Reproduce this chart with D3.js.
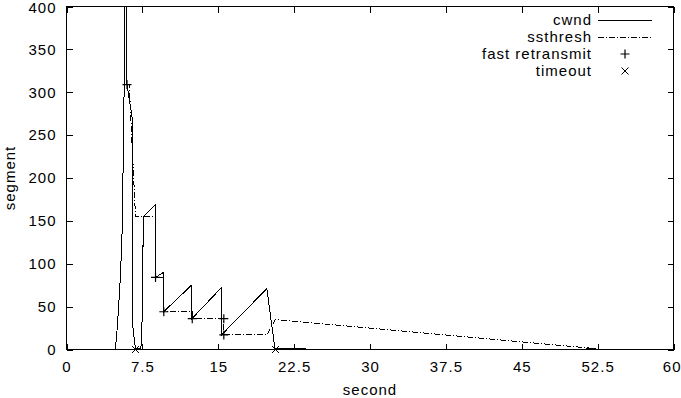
<!DOCTYPE html>
<html><head><meta charset="utf-8">
<script src="https://cdn.jsdelivr.net/npm/d3@7"></script>
<style>
body{margin:0;background:#fff}
svg text{font-family:"Liberation Sans",Arial,Helvetica,sans-serif;font-size:15px;letter-spacing:1px;fill:#000}
</style></head><body>
<svg id="c" width="681" height="398"></svg>
<script>
// ---- data ----
const xTicks = [0, 7.5, 15, 22.5, 30, 37.5, 45, 52.5, 60];
const yTicks = [0, 50, 100, 150, 200, 250, 300, 350, 400];
const xLabel = "second";
const yLabel = "segment";
const legendLabels = ["cwnd", "ssthresh", "fast retransmit", "timeout"];

const cwndTime  = [0, 4.78, 4.85, 4.95, 5.1, 5.3, 5.45, 5.5, 5.58, 5.65, 5.72, 5.76, 5.85, 5.95, 5.97, 6.3, 6.55, 6.57, 6.82, 7.35, 7.45, 7.52, 7.6, 8.8, 8.8, 9.58, 9.6, 12.36, 12.4, 15.3, 15.32, 19.8, 20.6, 23.6, 23.65, 51.4, 51.45, 52.3];
const cwndValue = [0, 0,    3,    15,   40,  80,  120,  139, 200,  260,  330,  400,  520,  618,  309,  285, 265,  25,   1,    1,    20,   80,   155, 169, 84,  90,   44,  75,    36,   72,   17,    71,   1.5,  1.5,  0,     0,    1.5,   1.5];

const ssthreshTime  = [5.98, 6.2, 6.82, 8.8, 8.8, 9.62, 9.62, 12.43, 12.43, 15.55, 15.55, 19.8, 20.66, 52.3];
const ssthreshValue = [309,  309, 155,  155, 84,  84,   44,   44,    36,    36,    17,    17,   35,    1];

const fastRetransmitTime  = [5.98, 8.8, 9.62, 12.43, 15.55, 15.55];
const fastRetransmitValue = [309,  84,  44,   36,    36,    17];

const timeoutTime  = [6.82, 20.66];
const timeoutValue = [0, 0];

// ---- layout ----
const svg = d3.select("#c");
const L = 66.5, R = 673.5, T = 6.5, B = 349.5;
const x = d3.scaleLinear().domain([0, 60]).range([L, R]);
const y = d3.scaleLinear().domain([0, 400]).range([B, T]);

svg.append("rect").attr("width", 681).attr("height", 398).attr("fill", "#fff");

svg.append("defs").append("clipPath").attr("id", "clip")
  .append("rect").attr("x", L - 0.5).attr("y", T - 0.5).attr("width", R - L + 1).attr("height", B - T + 1);

// axes (ticks inward, mirrored)
const gx = svg.append("g").attr("transform", `translate(0,${B})`)
  .call(d3.axisBottom(x).tickValues(xTicks).tickSize(-6).tickPadding(12).tickFormat(d => String(d)));
const gy = svg.append("g").attr("transform", `translate(${L},0)`)
  .call(d3.axisLeft(y).tickValues(yTicks).tickSize(-6).tickPadding(10).tickFormat(d => String(d)));
const gt = svg.append("g").attr("transform", `translate(0,${T})`)
  .call(d3.axisTop(x).tickValues(xTicks).tickSize(-6).tickFormat(""));
const gr = svg.append("g").attr("transform", `translate(${R},0)`)
  .call(d3.axisRight(y).tickValues(yTicks).tickSize(-6).tickFormat(""));
[gx, gy, gt, gr].forEach(g => {
  g.select(".domain").remove();
  g.selectAll("line").attr("stroke", "#000").attr("shape-rendering", "crispEdges");
  g.selectAll("text").attr("fill", "#000").style("font-size", "15px")
   .style("font-family", '"Liberation Sans",Arial,sans-serif');
  g.attr("font-size", null).attr("font-family", null);
});
// keep the last x label and the top y label inside the picture
gx.selectAll(".tick").filter(d => d === 60).select("text")
  .attr("text-anchor", "end").attr("x", 681 - R);
gy.selectAll(".tick").filter(d => d === 400).select("text").attr("y", 1);

svg.append("rect").attr("x", L).attr("y", T).attr("width", R - L).attr("height", B - T)
  .attr("fill", "none").attr("stroke", "#000").attr("shape-rendering", "crispEdges");

// axis titles
svg.append("text").attr("x", (L + R) / 2).attr("y", 390).attr("dy", "0.35em")
  .attr("text-anchor", "middle").text(xLabel);
svg.append("text").attr("transform", `translate(10,${(T + B) / 2}) rotate(-90)`)
  .attr("dy", "0.35em").attr("text-anchor", "middle").text(yLabel);

// lines
const plot = svg.append("g").attr("clip-path", "url(#clip)");
const line = d3.line().x(d => x(d[0])).y(d => y(d[1]));
const cwnd = cwndTime.map((t, i) => [t, cwndValue[i]]);
const ss = ssthreshTime.map((t, i) => [t, ssthreshValue[i]]);
plot.append("path").datum(ss).attr("d", line).attr("fill", "none")
  .attr("stroke", "#000").attr("stroke-width", 1).attr("stroke-dasharray", "6,2,1,2")
  .attr("shape-rendering", "crispEdges");
plot.append("path").datum(cwnd).attr("d", line).attr("fill", "none")
  .attr("stroke", "#000").attr("stroke-width", 1).attr("shape-rendering", "crispEdges");

// markers
const plusPath = "M-4.5,0H4.5M0,-4.5V4.5";
const crossPath = "M-3.5,-3.5L3.5,3.5M-3.5,3.5L3.5,-3.5";
svg.append("g").selectAll("path").data(fastRetransmitTime.map((t, i) => [t, fastRetransmitValue[i]]))
  .join("path").attr("transform", d => `translate(${x(d[0])},${y(d[1])})`)
  .attr("d", plusPath).attr("stroke", "#000").attr("stroke-width", 1.2).attr("fill", "none");
svg.append("g").selectAll("path").data(timeoutTime.map((t, i) => [t, timeoutValue[i]]))
  .join("path").attr("transform", d => `translate(${x(d[0])},${y(d[1])})`)
  .attr("d", crossPath).attr("stroke", "#000").attr("stroke-width", 1).attr("fill", "none");

// legend
const legY = [20, 37, 54, 71];
const lg = svg.append("g");
legendLabels.forEach((lab, i) => {
  lg.append("text").attr("x", 592).attr("y", legY[i]).attr("dy", "0.35em")
    .attr("text-anchor", "end").text(lab);
});
lg.append("line").attr("x1", 598).attr("x2", 652).attr("y1", legY[0] + 0.5).attr("y2", legY[0] + 0.5)
  .attr("stroke", "#000").attr("stroke-width", 1);
lg.append("line").attr("x1", 598).attr("x2", 652).attr("y1", legY[1] + 0.5).attr("y2", legY[1] + 0.5)
  .attr("stroke", "#000").attr("stroke-dasharray", "6,2,1,2");
lg.append("path").attr("transform", `translate(625,${legY[2]})`).attr("d", plusPath)
  .attr("stroke", "#000").attr("stroke-width", 1.2);
lg.append("path").attr("transform", `translate(625,${legY[3]})`).attr("d", crossPath)
  .attr("stroke", "#000");
</script>
</body></html>
